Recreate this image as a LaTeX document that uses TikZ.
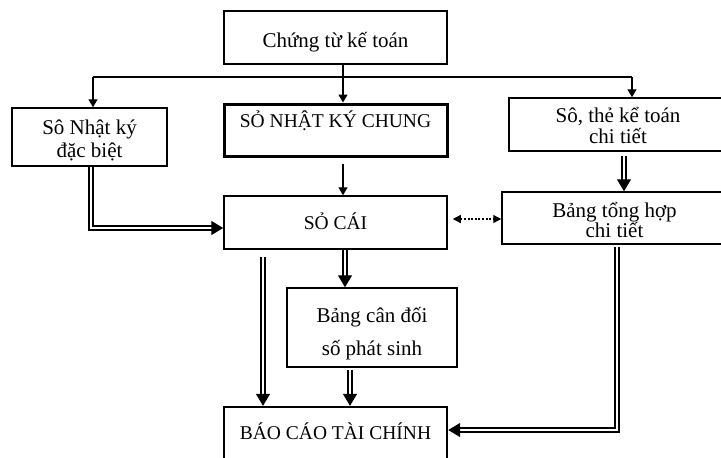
\documentclass[tikz,border=0pt]{standalone}
\usepackage{fontspec}
\setmainfont{Liberation Serif}
\usetikzlibrary{arrows.meta}
\newcommand\twolines[3]{\vbox{\baselineskip=#3\lineskiplimit=-100pt\halign{\hfil##\hfil\cr#1\cr#2\cr}}}
\begin{document}
\begin{tikzpicture}[x=0.5pt,y=-0.5pt,
  box/.style={draw, line width=0.75pt, inner sep=0pt, text depth=0pt,
    font=\fontsize{10.5}{11.5}\selectfont},
  capbox/.style={box, font=\fontsize{9.75}{11}\selectfont},
  ln/.style={line width=0.7pt},
  arr/.style={ln, -{Triangle[length=4pt,width=4.5pt]}},
  dbl/.style={double, double distance=1.3pt, line width=0.65pt},
  dblarr/.style={dbl, -{Triangle[length=6pt,width=7pt]}},
  dotarr/.style={line width=0.6pt, dash pattern=on 1pt off 0.8pt,
    {Triangle[length=4pt,width=4pt]}-{Triangle[length=4pt,width=4pt]}},
]
\useasboundingbox (0,0) rectangle (721,457);

% boxes
\node[box, minimum width=111.5pt, minimum height=26.5pt, text height=9.5pt] (top) at (335.5,37.5) {Chứng từ kế toán};
\node[box, minimum width=77.5pt, minimum height=29pt, text height=20pt] (nkdb) at (89.5,137) {\twolines{Sô Nhật ký}{đặc biệt}{11.5pt}};
\node[capbox, line width=1.5pt, minimum width=111.5pt, minimum height=26pt, text height=0pt, text depth=2.5pt] (nkc) at (335.5,130) {SỎ NHẬT KÝ CHUNG};
\node[box, minimum width=109pt, minimum height=26.5pt, text height=18.5pt] (ste) at (618,124.5) {\twolines{Sô, thẻ kể toán}{chi tiết}{10.5pt}};
\node[capbox, minimum width=111.5pt, minimum height=26.5pt, text height=6.5pt] (sc) at (335.5,222.5) {SỎ CÁI};
\node[box, minimum width=112.5pt, minimum height=26pt, text height=19pt] (bth) at (614.5,218) {\twolines{Bảng tổng hợp}{chi tiết}{10pt}};
\node[box, minimum width=85pt, minimum height=39.5pt, text height=27.5pt] (bcd) at (372,327.5) {\twolines{Bảng cân đối}{số phát sinh}{16.5pt}};
\node[capbox, line width=1.2pt, minimum width=111.5pt, minimum height=26pt, text height=6pt] (bctc) at (335.5,433) {BÁO CÁO TÀI CHÍNH};

% top distribution
\coordinate (jl) at (93,77);
\coordinate (jr) at (632,77);
\draw[ln] (jl) -- (jr);
\draw[arr] (jl) -- (jl |- nkdb.north);
\draw[arr] (jr) -- (jr |- ste.north);
\draw[arr] (top.south -| 343,0) -- (nkc.north -| 343,0);

% NKC -> So cai
\draw[arr] ([yshift=-3pt]nkc.south -| 343,0) -- (sc.north -| 343,0);

% So the -> Bang tong hop
\draw[dblarr] ([yshift=-2pt]ste.south -| 624,0) -- (bth.north -| 624,0);

% dotted link
\draw[dotarr] ([xshift=2.5pt]sc.east |- 0,219) -- (bth.west |- 0,219);

% NKDB -> So cai
\coordinate (c1) at (91,228);
\draw[dblarr] (nkdb.south -| c1) -- (c1) -- (sc.west |- c1);

% So cai -> BCTC
\draw[dblarr] ([yshift=-3.5pt]sc.south -| 263,0) -- (bctc.north -| 263,0);
% So cai -> Bang can doi
\draw[dblarr] (sc.south -| 345,0) -- (bcd.north -| 345,0);
% Bang can doi -> BCTC
\draw[dblarr] ([yshift=-1pt]bcd.south -| 350,0) -- (bctc.north -| 350,0);

% Bang tong hop -> BCTC
\coordinate (c2) at (617,430);
\draw[dblarr] ([yshift=-1pt]bth.south -| c2) -- (c2) -- (bctc.east |- c2);
\end{tikzpicture}
\end{document}
